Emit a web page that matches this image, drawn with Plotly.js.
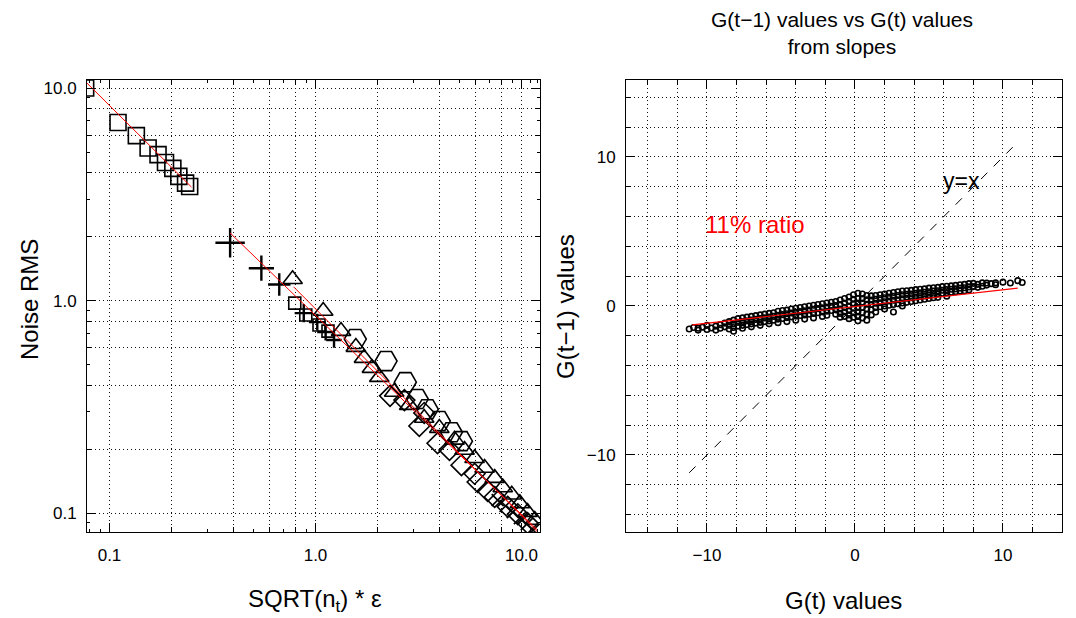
<!DOCTYPE html>
<html><head><meta charset="utf-8">
<script src="https://cdn.plot.ly/plotly-3.0.1.min.js"></script>
<style>html,body{margin:0;padding:0;background:#fff}#chart{width:1076px;height:618px}</style>
</head><body><div id="chart"></div>
<script>
// ---------- Left panel: Noise RMS vs SQRT(n_t)*eps (log-log) ----------
const sqX  = [0.0766, 0.110, 0.135, 0.154, 0.172, 0.187, 0.203, 0.217, 0.234, 0.245];
const sqY  = [10.0, 6.88, 5.97, 5.22, 4.86, 4.46, 4.19, 3.84, 3.57, 3.44];
const sq2X = [0.793, 0.897, 1.04, 1.15];
const sq2Y = [0.973, 0.855, 0.767, 0.718];
const plusX = [0.385, 0.546, 0.667, 0.877, 1.02, 1.12, 1.23];
const plusY = [1.87, 1.42, 1.19, 0.873, 0.792, 0.711, 0.652];
const plusSize = [21, 18, 16, 13, 12, 12, 11];
const triX = [0.774, 1.09, 1.33, 1.57, 1.72, 1.88, 2.04, 2.41, 2.85, 3.37, 3.99, 4.73, 5.29, 5.92, 6.62, 7.41, 8.11, 8.97, 9.82, 10.7, 11.6];
const triY = [1.26, 0.893, 0.718, 0.604, 0.536, 0.481, 0.436, 0.371, 0.322, 0.28, 0.251, 0.221, 0.198, 0.181, 0.163, 0.146, 0.132, 0.122, 0.111, 0.101, 0.0927];
const hexX = [1.56, 2.2, 2.73, 3.12, 3.49, 3.99, 4.57, 5.11];
const hexY = [0.659, 0.519, 0.413, 0.344, 0.308, 0.271, 0.24, 0.218];
const diaX = [2.3, 2.7, 3.19, 3.37, 3.91, 4.47, 5.11, 5.92, 6.12, 6.85, 7.41, 8.57, 9.59, 10.7];
const diaY = [0.356, 0.34, 0.257, 0.296, 0.213, 0.198, 0.168, 0.153, 0.14, 0.127, 0.119, 0.107, 0.0988, 0.0897];
const xmX = [7.66, 8.37, 9.07, 9.82, 10.6, 11.4];
const xmY = [0.115, 0.108, 0.101, 0.0947, 0.0887, 0.0831];
const fit1X = [0.0766, 0.25],  fit1Y = [10.7, 3.42];
const fit2X = [0.385, 12.0],   fit2Y = [2.08, 0.083];
const fit3X = [0.783, 12.2],   fit3Y = [1.16, 0.08];

const logTicks = [0.1, 0.2, 0.4, 0.6, 0.8, 1, 2, 4, 6, 8, 10];
const logTickText = ['0.1', '', '', '', '', '1.0', '', '', '', '', '10.0'];
const logMinor = [0.08, 0.09, 0.3, 0.5, 0.7, 0.9, 3, 5, 7, 9, 11, 12];
const logDecades = [0.1, 1, 10];

// ---------- Right panel: G(t-1) vs G(t) ----------
const gx = [
 -11.2,
 -10.9,
 -10.6,-10.6,
 -10.3,
 -10.0,-10.0,
 -9.7,
 -9.4,-9.4,
 -9.1,-9.1,
 -8.8,-8.8,
 -8.5,-8.5,-8.5,
 -8.2,-8.2,-8.2,-8.2,
 -7.9,-7.9,-7.9,
 -7.6,-7.6,-7.6,-7.6,
 -7.3,-7.3,-7.3,
 -7.0,-7.0,-7.0,-7.0,
 -6.7,-6.7,-6.7,
 -6.4,-6.4,-6.4,-6.4,
 -6.1,-6.1,-6.1,
 -5.8,-5.8,-5.8,-5.8,
 -5.5,-5.5,-5.5,
 -5.2,-5.2,-5.2,-5.2,
 -4.9,-4.9,-4.9,
 -4.6,-4.6,-4.6,-4.6,
 -4.3,-4.3,-4.3,
 -4.0,-4.0,-4.0,-4.0,
 -3.7,-3.7,-3.7,
 -3.4,-3.4,-3.4,-3.4,
 -3.1,-3.1,-3.1,
 -2.8,-2.8,-2.8,-2.8,
 -2.5,-2.5,-2.5,
 -2.2,-2.2,-2.2,-2.2,
 -1.9,-1.9,-1.9,-1.9,
 -1.6,-1.6,-1.6,
 -1.3,-1.3,-1.3,-1.3,
 -1.0,-1.0,-1.0,-1.0,-1.0,
 -0.7,-0.7,-0.7,-0.7,-0.7,
 -0.4,-0.4,-0.4,-0.4,-0.4,-0.4,
 -0.1,-0.1,-0.1,-0.1,-0.1,-0.1,
 0.2,0.2,0.2,0.2,0.2,0.2,0.2,
 0.5,0.5,0.5,0.5,0.5,0.5,
 0.8,0.8,0.8,0.8,0.8,0.8,
 1.1,1.1,1.1,1.1,1.1,
 1.4,1.4,1.4,1.4,1.4,
 1.7,1.7,1.7,1.7,
 2.0,2.0,2.0,2.0,2.0,
 2.3,2.3,2.3,2.3,
 2.6,2.6,2.6,2.6,2.6,
 2.9,2.9,2.9,2.9,
 3.2,3.2,3.2,3.2,3.2,
 3.5,3.5,3.5,3.5,
 3.8,3.8,3.8,3.8,
 4.1,4.1,4.1,4.1,
 4.4,4.4,4.4,4.4,
 4.7,4.7,4.7,4.7,
 5.0,5.0,5.0,5.0,
 5.3,5.3,5.3,5.3,
 5.6,5.6,5.6,5.6,
 5.9,5.9,5.9,
 6.2,6.2,6.2,6.2,
 6.5,6.5,6.5,
 6.8,6.8,6.8,
 7.1,7.1,7.1,
 7.4,7.4,7.4,
 7.7,7.7,7.7,
 8.0,8.0,
 8.3,8.3,
 8.6,8.6,
 8.9,8.9,
 9.2,
 9.5,9.5,
 10.0,
 10.5,
 11.0,
 11.3
];
const gy = [
 -1.55,
 -1.45,
 -1.5,-1.62,
 -1.42,
 -1.58,-1.3,
 -1.48,
 -1.35,-1.62,
 -1.25,-1.5,
 -1.4,-1.15,
 -1.3,-1.55,-1.05,
 -0.95,-1.2,-1.45,-1.7,
 -0.85,-1.1,-1.35,
 -0.8,-1.05,-1.3,-1.5,
 -0.75,-1.0,-1.25,
 -0.7,-0.95,-1.2,-1.4,
 -0.65,-0.9,-1.15,
 -0.6,-0.85,-1.1,-1.3,
 -0.55,-0.8,-1.05,
 -0.5,-0.75,-1.0,-1.2,
 -0.45,-0.7,-0.95,
 -0.35,-0.62,-0.88,-1.12,
 -0.3,-0.58,-0.84,
 -0.28,-0.52,-0.78,-1.05,
 -0.2,-0.47,-0.73,
 -0.15,-0.42,-0.68,-0.95,
 -0.1,-0.38,-0.64,
 -0.05,-0.33,-0.6,-0.88,
 0.0,-0.28,-0.55,
 0.05,-0.22,-0.5,-0.8,
 0.1,-0.18,-0.45,
 0.15,-0.12,-0.4,-0.7,
 0.2,-0.08,-0.35,-0.62,
 0.25,-0.02,-0.3,
 0.3,0.02,-0.26,-0.55,
 0.4,0.1,-0.2,-0.5,-0.75,
 0.5,0.2,-0.1,-0.4,-0.7,
 0.6,0.3,0.0,-0.3,-0.6,-0.85,
 0.75,0.45,0.15,-0.15,-0.45,-0.75,
 0.85,0.5,0.2,-0.1,-0.4,-0.7,-1.0,
 0.8,0.5,0.2,-0.1,-0.45,-0.8,
 0.7,0.42,0.12,-0.2,-0.55,-0.95,
 0.68,0.4,0.1,-0.25,-0.6,
 0.7,0.45,0.18,-0.1,-0.4,
 0.75,0.5,0.22,-0.05,
 0.8,0.55,0.28,0.0,-0.2,
 0.85,0.6,0.33,0.05,
 0.9,0.65,0.38,0.1,-0.4,
 0.95,0.7,0.42,0.15,
 1.0,0.75,0.48,0.2,0.0,
 1.02,0.78,0.52,0.25,
 1.05,0.8,0.55,0.3,
 1.1,0.85,0.6,0.35,
 1.12,0.88,0.64,0.4,
 1.15,0.92,0.68,0.45,
 1.2,0.95,0.72,0.5,
 1.22,1.0,0.76,0.55,
 1.25,1.02,0.8,0.58,
 1.3,1.06,0.85,
 1.32,1.1,0.88,0.66,
 1.35,1.12,0.92,
 1.38,1.15,0.96,
 1.42,1.2,1.0,
 1.45,1.22,1.02,
 1.5,1.28,1.08,
 1.52,1.3,
 1.45,1.25,
 1.55,1.32,
 1.4,1.54,
 1.5,
 1.55,1.42,
 1.6,
 1.54,
 1.7,
 1.58
];
const idX = [-11.2, 11.0], idY = [-11.2, 11.0];
const ratioX = [-11.0, 11.0], ratioY = [-1.27, 1.2];
const linTicks = [-14,-12,-10,-8,-6,-4,-2,0,2,4,6,8,10,12,14];
const linTickText = ['','','\u221210','','','','','0','','','','','10','',''];
const linMajor = [-10, 0, 10];

const FONT = 'Liberation Sans, Arial, Helvetica, sans-serif';
const mk = (sym, size, w) => ({symbol: sym, size: size, color: 'black', line: {color: 'black', width: w}});

const traces = [
  {x: sqX, y: sqY, mode: 'markers', marker: mk('square-open', 16, 1.6), xaxis: 'x', yaxis: 'y'},
  {x: sq2X, y: sq2Y, mode: 'markers', marker: mk('square-open', 12, 1.6), xaxis: 'x', yaxis: 'y'},
  {x: plusX, y: plusY, mode: 'markers', marker: {symbol: 'cross-thin-open', size: plusSize, color: '#000000', opacity: 1, line: {color: '#000000', width: 2.4}}, xaxis: 'x', yaxis: 'y'},
  {x: triX, y: triY, mode: 'markers', marker: mk('triangle-up-open', 17, 1.6), xaxis: 'x', yaxis: 'y'},
  {x: hexX, y: hexY, mode: 'markers', marker: mk('hexagon2-open', 22, 1.6), xaxis: 'x', yaxis: 'y'},
  {x: diaX, y: diaY, mode: 'markers', marker: mk('diamond-open', 16, 1.6), xaxis: 'x', yaxis: 'y'},
  {x: xmX, y: xmY, mode: 'markers', marker: mk('x-thin-open', 12, 1.6), xaxis: 'x', yaxis: 'y'},
  {x: fit1X, y: fit1Y, mode: 'lines', line: {color: 'red', width: 1}, xaxis: 'x', yaxis: 'y'},
  {x: fit2X, y: fit2Y, mode: 'lines', line: {color: 'red', width: 1}, xaxis: 'x', yaxis: 'y'},
  {x: fit3X, y: fit3Y, mode: 'lines', line: {color: 'red', width: 1}, xaxis: 'x', yaxis: 'y'},
  {x: gx, y: gy, mode: 'markers', marker: {symbol: 'circle-open', size: 5.5, color: 'black', line: {color: 'black', width: 1.6}}, xaxis: 'x2', yaxis: 'y2'},
  {x: idX, y: idY, mode: 'lines', line: {color: 'black', width: 1, dash: 'dash'}, xaxis: 'x2', yaxis: 'y2'},
  {x: ratioX, y: ratioY, mode: 'lines', line: {color: 'red', width: 1.2}, xaxis: 'x2', yaxis: 'y2'},
  {x: [], y: [], mode: 'markers', xaxis: 'x3', yaxis: 'y3', hoverinfo: 'skip'},
  {x: [], y: [], mode: 'markers', xaxis: 'x4', yaxis: 'y4', hoverinfo: 'skip'}
];

const tickFont = {family: FONT, size: 17, color: 'black'};
const baseAxis = {
  ticks: 'inside', ticklen: 5, tickwidth: 1, tickcolor: 'black', tickangle: 0,
  showline: true, linecolor: 'black', linewidth: 1, mirror: 'allticks',
  showgrid: true, gridcolor: '#111', gridwidth: 1, griddash: '1px,3px',
  zeroline: false, tickfont: tickFont, tickmode: 'array', fixedrange: true
};
const overAxis = {
  ticks: 'inside', ticklen: 9, tickwidth: 1, tickcolor: 'black',
  showline: false, mirror: 'ticks', showgrid: false, zeroline: false,
  showticklabels: false, tickmode: 'array', fixedrange: true
};
const LX = [0.0809, 0.5019], RX = [0.5818, 0.987], YD = [0.1392, 0.8706];
const lxRange = [-1.109, 1.09], lyRange = [-1.089, 1.038];
const rxRange = [-15.47, 13.99], ryRange = [-15.17, 15.17];

const layout = {
  width: 1076, height: 618,
  margin: {l: 0, r: 0, t: 0, b: 0},
  paper_bgcolor: 'white', plot_bgcolor: 'white',
  showlegend: false,
  font: {family: FONT, color: 'black'},
  xaxis: Object.assign({}, baseAxis, {domain: LX, type: 'log', range: lxRange, anchor: 'y',
    tickvals: logTicks, ticktext: logTickText, ticklabelstandoff: 8,
    minor: {tickvals: logMinor, ticks: 'inside', ticklen: 3, tickcolor: 'black', showgrid: false}}),
  yaxis: Object.assign({}, baseAxis, {domain: YD, type: 'log', range: lyRange, anchor: 'x',
    tickvals: logTicks, ticktext: logTickText, ticklabelstandoff: 6,
    minor: {tickvals: logMinor, ticks: 'inside', ticklen: 3, tickcolor: 'black', showgrid: false}}),
  xaxis3: Object.assign({}, overAxis, {type: 'log', range: lxRange, overlaying: 'x', anchor: 'y3', tickvals: logDecades}),
  yaxis3: Object.assign({}, overAxis, {type: 'log', range: lyRange, overlaying: 'y', anchor: 'x3', tickvals: logDecades}),
  xaxis2: Object.assign({}, baseAxis, {domain: RX, range: rxRange, anchor: 'y2',
    tickvals: linTicks, ticktext: linTickText, ticklabelstandoff: 8}),
  yaxis2: Object.assign({}, baseAxis, {domain: YD, range: ryRange, anchor: 'x2',
    tickvals: linTicks, ticktext: linTickText, ticklabelstandoff: 6}),
  xaxis4: Object.assign({}, overAxis, {range: rxRange, overlaying: 'x2', anchor: 'y4', tickvals: linMajor}),
  yaxis4: Object.assign({}, overAxis, {range: ryRange, overlaying: 'y2', anchor: 'x4', tickvals: linMajor}),
  annotations: [
    {xref: 'paper', yref: 'paper', x: 0.7825, y: 0.9458, text: 'G(t\u22121) values vs G(t) values<br>from slopes', showarrow: false, xanchor: 'center', yanchor: 'middle', font: {family: FONT, size: 21, color: 'black'}},
    {xref: 'paper', yref: 'paper', x: 0.2928, y: 0.0291, text: 'SQRT(n<sub>t</sub>) * \u03b5', showarrow: false, xanchor: 'center', yanchor: 'middle', font: {family: FONT, size: 24, color: 'black'}},
    {xref: 'paper', yref: 'paper', x: 0.7835, y: 0.0291, text: 'G(t) values', showarrow: false, xanchor: 'center', yanchor: 'middle', font: {family: FONT, size: 24, color: 'black'}},
    {xref: 'paper', yref: 'paper', x: 0.0279, y: 0.5146, text: 'Noise RMS', textangle: -90, showarrow: false, xanchor: 'center', yanchor: 'middle', font: {family: FONT, size: 24, color: 'black'}},
    {xref: 'paper', yref: 'paper', x: 0.526, y: 0.505, text: 'G(t\u22121) values', textangle: -90, showarrow: false, xanchor: 'center', yanchor: 'middle', font: {family: FONT, size: 24, color: 'black'}},
    {xref: 'x2', yref: 'y2', x: 7.23, y: 8.39, text: 'y=x', showarrow: false, xanchor: 'center', yanchor: 'middle', font: {family: FONT, size: 23, color: 'black'}},
    {xref: 'x2', yref: 'y2', x: -6.76, y: 5.44, text: '11% ratio', showarrow: false, xanchor: 'center', yanchor: 'middle', font: {family: FONT, size: 24, color: 'red'}}
  ]
};

Plotly.newPlot('chart', traces, layout, {staticPlot: true, displayModeBar: false});
</script>
</body></html>
